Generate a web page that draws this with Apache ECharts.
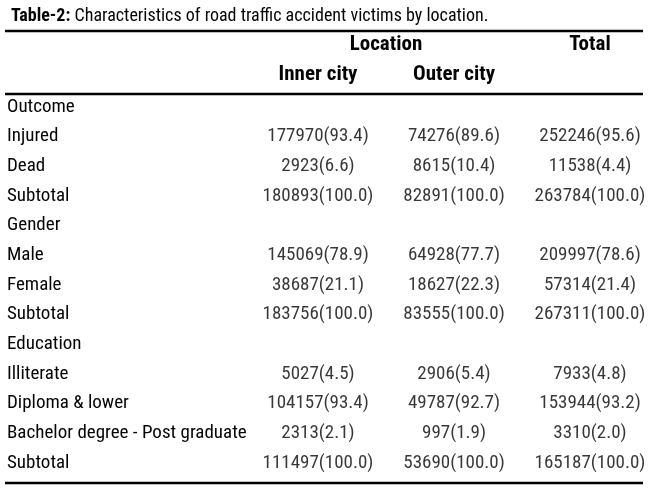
<!DOCTYPE html>
<html>
<head>
<meta charset="utf-8">
<script src="https://cdn.jsdelivr.net/npm/echarts@6/dist/echarts.min.js"></script>
<style>
  html, body { margin: 0; padding: 0; background: #fff; }
  #table_chart { width: 650px; height: 491px; }
</style>
</head>
<body>
<div id="table_chart"></div>
<script>
var rowLabels = ['Outcome', 'Injured', 'Dead', 'Subtotal', 'Gender', 'Male', 'Female', 'Subtotal',
	'Education', 'Illiterate', 'Diploma & lower', 'Bachelor degree - Post graduate', 'Subtotal'];
var subHeaders = ['Inner city', 'Outer city', ''];
var topHeaders = ['', 'Location', '', '', 'Total'];

// counts and percentages, null for the section rows
var innerN   = [null, 177970, 2923, 180893, null, 145069, 38687, 183756, null, 5027, 104157, 2313, 111497];
var innerPct = [null, 93.4, 6.6, 100.0, null, 78.9, 21.1, 100.0, null, 4.5, 93.4, 2.1, 100.0];
var outerN   = [null, 74276, 8615, 82891, null, 64928, 18627, 83555, null, 2906, 49787, 997, 53690];
var outerPct = [null, 89.6, 10.4, 100.0, null, 77.7, 22.3, 100.0, null, 5.4, 92.7, 1.9, 100.0];
var totalN   = [null, 252246, 11538, 263784, null, 209997, 57314, 267311, null, 7933, 153944, 3310, 165187];
var totalPct = [null, 95.6, 4.4, 100.0, null, 78.6, 21.4, 100.0, null, 4.8, 93.2, 2.0, 100.0];

var FONT = '"Roboto Condensed", "Liberation Sans Narrow", sans-serif';
var INK = '#050505';

function cellSeries(col, counts, pcts) {
	var data = [];
	for (var i = 0; i < rowLabels.length; i++) {
		if (counts[i] === null) continue;
		data.push({ value: [col, i], n: counts[i], p: pcts[i] });
	}
	return {
		type: 'scatter',
		symbolSize: 0,
		data: data,
		silent: true,
		label: {
			show: true,
			position: 'inside',
			fontFamily: FONT,
			fontSize: 19,
			color: INK,
			formatter: function (p) {
				return p.data.n + '(' + p.data.p.toFixed(1) + ')';
			}
		}
	};
}

var myChart = echarts.init(document.getElementById('table_chart'), null, { renderer: 'canvas' });

var ruleStyle = { stroke: '#000', lineWidth: 2.6 };

option = {
	animation: false,
	backgroundColor: '#fff',
	title: {
		left: 6,
		top: 2,
		text: '{b|Table-2:} Characteristics of road traffic accident victims by location.',
		textStyle: {
			fontFamily: FONT,
			fontSize: 18,
			fontWeight: 'normal',
			color: INK,
			rich: {
				b: { fontFamily: FONT, fontSize: 18, fontWeight: 'bold', color: INK }
			}
		}
	},
	grid: { left: 318, right: 60, top: 107, bottom: 28 },
	xAxis: [
		{
			type: 'category',
			position: 'top',
			boundaryGap: false,
			data: subHeaders,
			axisLine: { show: false },
			axisTick: { show: false },
			splitLine: { show: false },
			axisLabel: {
				interval: 0,
				margin: 32,
				verticalAlign: 'middle',
				fontFamily: FONT,
				fontSize: 21,
				fontWeight: 'bold',
				color: INK
			}
		},
		{
			type: 'category',
			position: 'top',
			boundaryGap: false,
			data: topHeaders,
			axisLine: { show: false },
			axisTick: { show: false },
			splitLine: { show: false },
			axisLabel: {
				interval: 0,
				margin: 62,
				verticalAlign: 'middle',
				fontFamily: FONT,
				fontSize: 21,
				fontWeight: 'bold',
				color: INK
			}
		}
	],
	yAxis: {
		type: 'category',
		inverse: true,
		boundaryGap: false,
		data: rowLabels,
		axisLine: { show: false },
		axisTick: { show: false },
		splitLine: { show: false },
		axisLabel: {
			interval: 0,
			align: 'left',
			margin: 311,
			fontFamily: FONT,
			fontSize: 19,
			color: INK
		}
	},
	graphic: [
		{ type: 'line', shape: { x1: 5, y1: 31, x2: 643, y2: 31 }, style: ruleStyle },
		{ type: 'line', shape: { x1: 5, y1: 94, x2: 643, y2: 94 }, style: ruleStyle },
		{ type: 'line', shape: { x1: 5, y1: 483, x2: 643, y2: 483 }, style: ruleStyle }
	],
	series: [
		cellSeries(0, innerN, innerPct),
		cellSeries(1, outerN, outerPct),
		cellSeries(2, totalN, totalPct)
	]
};

myChart.setOption(option);
</script>
</body>
</html>
